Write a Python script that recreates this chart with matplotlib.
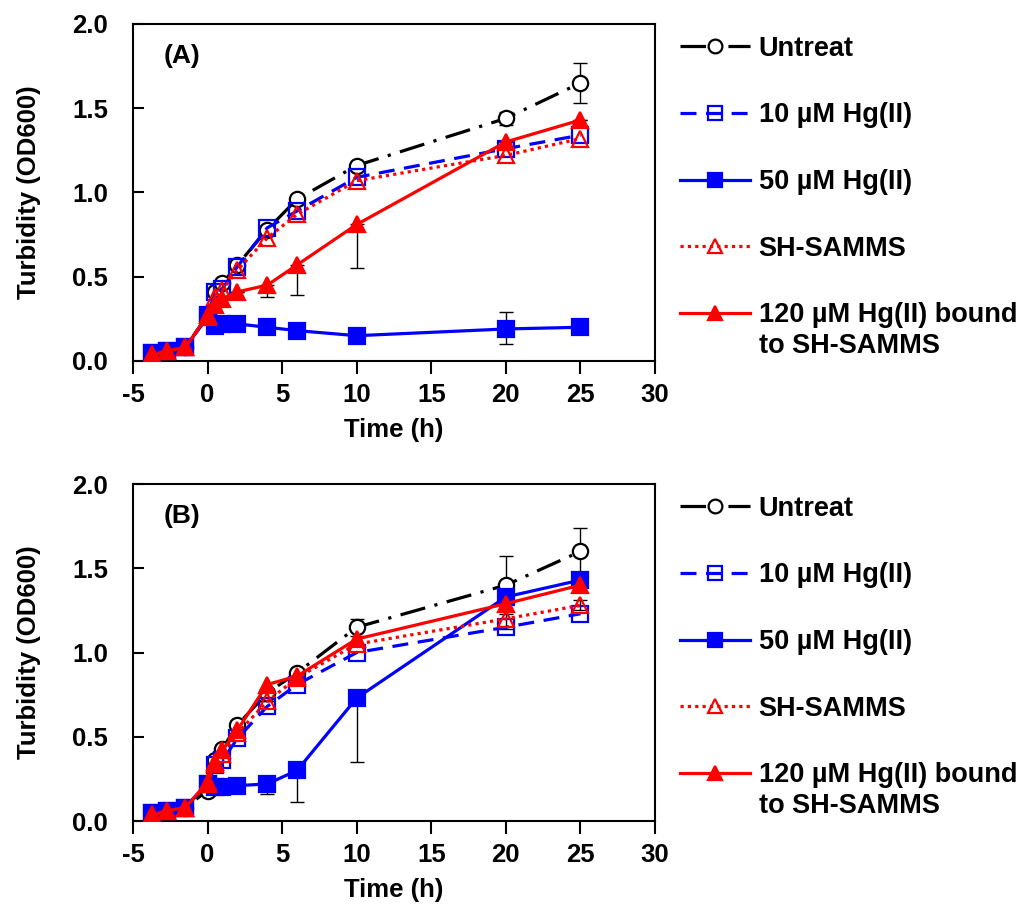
import matplotlib
matplotlib.use('Agg')
import matplotlib.pyplot as plt
import numpy as np

plt.rcParams['font.family'] = ['Liberation Sans', 'DejaVu Sans']
plt.rcParams['font.weight'] = 'bold'
plt.rcParams['axes.unicode_minus'] = False

times = [-3.75, -2.75, -1.5, 0, 0.5, 1, 2, 4, 6, 10, 20, 25]
labels = ['Untreat', '10 \u00b5M Hg(II)', '50 \u00b5M Hg(II)', 'SH-SAMMS',
          '120 \u00b5M Hg(II) bound']
label_tail = 'to SH-SAMMS'

# panel A
a_untreat = [0.05, 0.06, 0.08, 0.27, 0.41, 0.46, 0.57, 0.78, 0.96, 1.16, 1.44, 1.65]
a_hg10 = [0.05, 0.06, 0.08, 0.27, 0.41, 0.43, 0.56, 0.79, 0.89, 1.09, 1.26, 1.34]
a_hg50 = [0.05, 0.06, 0.08, 0.26, 0.21, 0.22, 0.22, 0.20, 0.18, 0.15, 0.19, 0.20]
a_samms = [0.04, 0.06, 0.08, 0.26, 0.38, 0.42, 0.54, 0.73, 0.87, 1.07, 1.22, 1.32]
a_bound = [0.03, 0.06, 0.08, 0.27, 0.33, 0.37, 0.41, 0.45, 0.57, 0.81, 1.30, 1.43]

# panel B
b_untreat = [0.05, 0.06, 0.08, 0.18, 0.36, 0.43, 0.57, 0.76, 0.88, 1.15, 1.40, 1.60]
b_hg10 = [0.05, 0.06, 0.08, 0.22, 0.33, 0.36, 0.49, 0.68, 0.81, 1.00, 1.15, 1.23]
b_hg50 = [0.05, 0.06, 0.08, 0.22, 0.20, 0.20, 0.21, 0.22, 0.30, 0.73, 1.33, 1.43]
b_samms = [0.04, 0.06, 0.08, 0.22, 0.34, 0.40, 0.52, 0.71, 0.85, 1.05, 1.20, 1.28]
b_bound = [0.03, 0.06, 0.08, 0.23, 0.35, 0.42, 0.54, 0.81, 0.86, 1.08, 1.29, 1.40]

# visible error bars (lower, upper) per series, zero where not seen
a_untreat_lo = [0, 0, 0, 0, 0, 0, 0, 0, 0, 0, 0.04, 0.12]
a_untreat_hi = [0, 0, 0, 0, 0, 0, 0, 0, 0, 0, 0.04, 0.12]
a_hg50_lo = [0, 0, 0, 0, 0, 0, 0, 0, 0, 0, 0.09, 0]
a_hg50_hi = [0, 0, 0, 0, 0, 0, 0, 0, 0, 0, 0.10, 0]
a_bound_lo = [0, 0, 0, 0, 0, 0, 0, 0.07, 0.18, 0.26, 0, 0]
a_bound_hi = [0, 0, 0, 0, 0, 0, 0, 0, 0, 0, 0, 0]

b_untreat_lo = [0, 0, 0, 0, 0, 0, 0, 0, 0, 0.05, 0.17, 0.14]
b_untreat_hi = [0, 0, 0, 0, 0, 0, 0, 0, 0, 0.05, 0.17, 0.14]
b_hg50_lo = [0, 0, 0, 0, 0, 0, 0, 0.06, 0.19, 0.38, 0, 0]
b_hg50_hi = [0, 0, 0, 0, 0, 0, 0, 0, 0, 0, 0, 0]
b_samms_lo = [0, 0, 0, 0, 0, 0, 0, 0, 0, 0, 0.06, 0.03]
b_samms_hi = [0, 0, 0, 0, 0, 0, 0, 0, 0, 0, 0.05, 0.03]

panels = [
    ('(A)', [a_untreat, a_hg10, a_hg50, a_samms, a_bound],
     [(a_untreat, a_untreat_lo, a_untreat_hi), (a_hg50, a_hg50_lo, a_hg50_hi),
      (a_bound, a_bound_lo, a_bound_hi)]),
    ('(B)', [b_untreat, b_hg10, b_hg50, b_samms, b_bound],
     [(b_untreat, b_untreat_lo, b_untreat_hi), (b_hg50, b_hg50_lo, b_hg50_hi),
      (b_samms, b_samms_lo, b_samms_hi)]),
]

styles = [
    dict(color='black', dashes=(8, 3, 1, 3), marker='o', mfc='white', mec='black'),
    dict(color='#0000ff', dashes=(5, 3), marker='s', mfc='none', mec='#0000ff'),
    dict(color='#0000ff', linestyle='-', marker='s', mfc='#0000ff', mec='#0000ff'),
    dict(color='#ff0000', dashes=(1, 1.3), marker='^', mfc='none', mec='#ff0000'),
    dict(color='#ff0000', linestyle='-', marker='^', mfc='#ff0000', mec='#ff0000'),
]

fs_tick = 18.5
fs_leg = 19.5

fig = plt.figure(figsize=(10.27, 9.09), dpi=100)
rects = [[0.1295, 0.6029, 0.5083, 0.3707], [0.1295, 0.0968, 0.5083, 0.3707]]

legends = []
for rect, (tag, series, errs) in zip(rects, panels):
    ax = fig.add_axes(rect)
    for ys, lo, hi in errs:
        ax.errorbar(times, ys, yerr=[lo, hi], fmt='none', ecolor='black',
                    elinewidth=1, capsize=5, capthick=1, zorder=1)
    handles = []
    for ys, st, lab in zip(series, styles, labels):
        h, = ax.plot(times, ys, lw=2.3, ms=11, mew=1.6, label=lab, zorder=3, **st)
        handles.append(h)
    ax.set_xlim(-5, 30)
    ax.set_ylim(0, 2.0)
    ax.set_xticks(np.arange(-5, 31, 5))
    ax.set_yticks(np.arange(0, 2.01, 0.5))
    ax.set_yticklabels(['%.1f' % v for v in np.arange(0, 2.01, 0.5)])
    ax.tick_params(axis='x', direction='out', length=9, width=1.5, pad=7,
                   labelsize=fs_tick)
    ax.tick_params(axis='y', direction='in', length=8, width=1.5, pad=18,
                   labelsize=fs_tick)
    for sp in ax.spines.values():
        sp.set_linewidth(1.5)
    ax.set_xlabel('Time (h)', fontsize=fs_tick, fontweight='bold', labelpad=8)
    ax.set_ylabel('Turbidity (OD600)', fontsize=fs_tick, fontweight='bold', labelpad=22)
    ax.text(0.059, 0.905, tag, transform=ax.transAxes, fontsize=19,
            fontweight='bold', va='center')
    leg = ax.legend(handles=handles, loc='upper left', bbox_to_anchor=(1.048, 0.965),
                    frameon=False, fontsize=fs_leg, handlelength=2.6, handletextpad=0.3,
                    labelspacing=1.5, markerscale=0.9, borderaxespad=0, borderpad=0)
    legends.append((ax, leg))

# second line of the last legend label, placed under its first line
fig.canvas.draw()
for ax, leg in legends:
    bb = leg.get_texts()[-1].get_window_extent()
    fig.text(bb.x0 / fig.dpi / fig.get_figwidth(),
             (bb.y0 - 31) / fig.dpi / fig.get_figheight(),
             label_tail, fontsize=fs_leg, fontweight='bold', ha='left', va='bottom')

plt.savefig('out.png', dpi=100)
plt.close()
